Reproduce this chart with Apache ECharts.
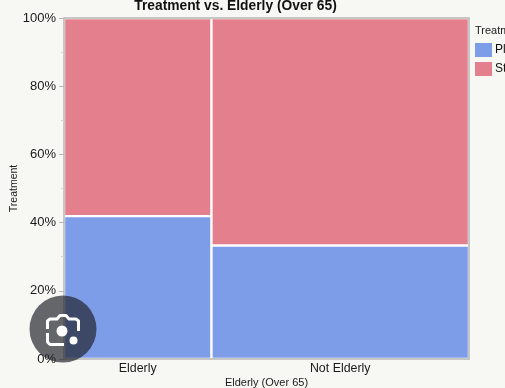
<!DOCTYPE html>
<html>
<head>
<meta charset="utf-8">
<style>html,body{margin:0;padding:0;background:#f7f8f3;overflow:hidden}#c{width:505px;height:388px}</style>
<script src="https://cdn.jsdelivr.net/npm/echarts@6/dist/echarts.min.js"></script>
</head>
<body>
<div id="c"></div>
<script>
const categories = ['Elderly', 'Not Elderly'];
const columnShare = [36.4, 63.6];
const treatments = ['Placebo', 'Standard'];
const placeboShare = [41.9, 33.3];
const standardShare = [58.1, 66.7];
const yTicks = [0, 20, 40, 60, 80, 100];
const FONT = '"Liberation Sans", Arial, sans-serif';

let acc = 0;
const columnStart = columnShare.map(v => { const s = acc; acc += v; return s; });
const columnCenter = columnShare.map((v, i) => columnStart[i] + v / 2);

function rows(bottoms, values) {
  return values.map((v, i) => [columnStart[i], columnStart[i] + columnShare[i], bottoms[i], bottoms[i] + v]);
}
function renderItem(params, api) {
  const inset = 1.2;
  const p0 = api.coord([api.value(0), api.value(2)]);
  const p1 = api.coord([api.value(1), api.value(3)]);
  return {
    type: 'rect',
    shape: { x: p0[0] + inset, y: p1[1] + inset, width: p1[0] - p0[0] - 2 * inset, height: p0[1] - p1[1] - 2 * inset },
    style: { fill: api.visual('color') }
  };
}
const iconStroke = { fill: 'none', stroke: '#ffffff', lineWidth: 3, lineJoin: 'round' };
const chart = echarts.init(document.getElementById('c'), null, { renderer: 'canvas' });
chart.setOption({
  animation: false,
  backgroundColor: '#f7f8f3',
  textStyle: { fontFamily: FONT },
  title: [
    { text: 'Treatment vs. Elderly (Over 65)', left: 235.5, top: -1, padding: 0, textAlign: 'center',
      textStyle: { fontSize: 13.8, fontWeight: 'bold', color: '#111', fontFamily: FONT } },
    { text: 'Treatment', left: 475, top: 25, padding: 0,
      textStyle: { fontSize: 11, fontWeight: 'normal', color: '#1a1a1a', fontFamily: FONT } }
  ],
  legend: {
    left: 475, top: 43, padding: 0, orient: 'vertical', itemWidth: 17, itemHeight: 14, itemGap: 5,
    icon: 'rect', data: treatments,
    textStyle: { fontSize: 12, color: '#111', fontFamily: FONT, padding: [0, 0, 0, -2] }
  },
  grid: { left: 64, right: 36, top: 18, bottom: 29, outerBoundsMode: 'none', show: true, backgroundColor: '#ffffff',
    borderColor: '#b4b7b4', borderWidth: 1.5 },
  xAxis: {
    type: 'value', min: 0, max: 100,
    name: 'Elderly (Over 65)', nameLocation: 'middle', nameGap: 18, nameMoveOverlap: false,
    nameTextStyle: { fontSize: 11, color: '#1a1a1a', fontFamily: FONT, verticalAlign: 'top' },
    axisLine: { show: false },
    axisTick: { show: false },
    splitLine: { show: false },
    axisLabel: {
      customValues: columnCenter, fontSize: 12.4, color: '#1a1a1a', margin: 4,
      formatter: v => categories[columnCenter.findIndex(c => Math.abs(c - v) < 1e-6)]
    }
  },
  yAxis: {
    type: 'value', min: 0, max: 100, interval: yTicks[1] - yTicks[0],
    name: 'Treatment', nameLocation: 'middle', nameGap: 50, nameRotate: 90, nameMoveOverlap: false,
    nameTextStyle: { fontSize: 10.5, color: '#1a1a1a', fontFamily: FONT, verticalAlign: 'middle' },
    axisLine: { show: false },
    axisTick: { show: true, length: 5, lineStyle: { color: '#b4b7b4', width: 1 } },
    minorTick: { show: true, splitNumber: 2, length: 3, lineStyle: { color: '#d4d6d4', width: 1 } },
    splitLine: { show: false },
    minorSplitLine: { show: false },
    axisLabel: { fontSize: 13, color: '#1a1a1a', margin: 8, formatter: '{value}%' }
  },
  series: [
    { name: treatments[0], type: 'custom', renderItem, clip: false,
      itemStyle: { color: '#7e9de8' }, encode: { x: [0, 1], y: [2, 3] },
      data: rows([0, 0], placeboShare) },
    { name: treatments[1], type: 'custom', renderItem, clip: false,
      itemStyle: { color: '#e4808e' }, encode: { x: [0, 1], y: [2, 3] },
      data: rows(placeboShare, standardShare) }
  ],
  graphic: [
    { type: 'circle', z: 100, silent: true, shape: { cx: 63, cy: 329, r: 33.5 }, style: { fill: 'rgba(30,32,40,0.68)' } },
    { type: 'polyline', z: 101, silent: true, shape: { points: [[47.5, 329], [47.5, 321], [50, 319], [57, 319], [60, 315.5], [66, 315.5], [69, 319], [76, 319], [78.5, 321], [78.5, 331]] }, style: iconStroke },
    { type: 'polyline', z: 101, silent: true, shape: { points: [[47.5, 333], [47.5, 342], [50, 344.5], [64, 344.5]] }, style: iconStroke },
    { type: 'circle', z: 101, silent: true, shape: { cx: 62, cy: 331, r: 5.5 }, style: { fill: '#ffffff' } },
    { type: 'circle', z: 101, silent: true, shape: { cx: 73.5, cy: 340.5, r: 4 }, style: { fill: '#ffffff' } }
  ]
});
</script>
</body>
</html>
